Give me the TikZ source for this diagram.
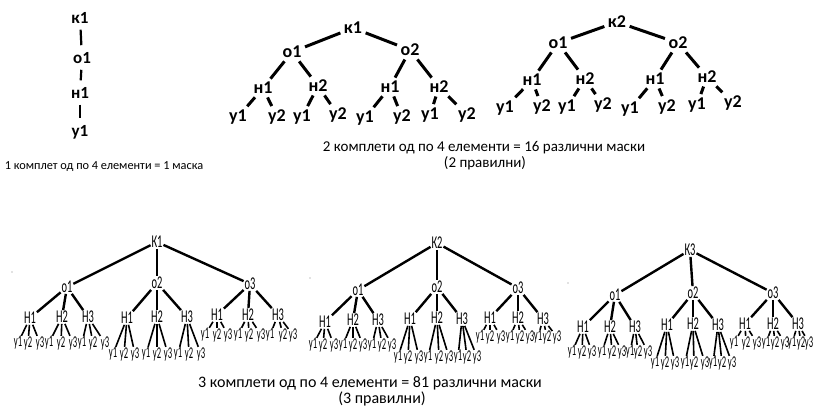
\documentclass[tikz,border=0pt]{standalone}
\usepackage{fontspec}
\setmainfont{Carlito}
\newfontfamily\narrowfont[FakeStretch=0.58]{Carlito}
\newfontfamily\narrowerfont[FakeStretch=0.52]{Carlito}
\newcommand\yrow[4]{%
  \foreach \xx [count=\c from 0] in {#4} {
    \pgfmathtruncatemacro\jj{int(\c/3)+1}
    \pgfmathtruncatemacro\kk{mod(\c,3)+1}
    \node[byl] (#1-o#2-n\jj-y\kk) at (\xx,#3) {у\kk};
    \draw[bye] (#1-o#2-n\jj) -- (#1-o#2-n\jj-y\kk);
  }}
\newcommand\btree[5]{% name, root label, root pos, o-list i/x/y, n-list i/j/x/y
  \node[bl] (#1) at (#3) {#2};
  \foreach \i/\x/\y in {#4} {
    \node[bl] (#1-o\i) at (\x,\y) {о\i};
    \draw[be] (#1) -- (#1-o\i);
  }
  \foreach \i/\j/\x/\y in {#5} {
    \node[bl] (#1-o\i-n\j) at (\x,\y) {Н\j};
    \draw[be] (#1-o\i) -- (#1-o\i-n\j);
  }}
\begin{document}
\begin{tikzpicture}[x=1pt,y=-1pt,
  tl/.style={font=\fontsize{18}{18}\selectfont\bfseries, inner sep=2.5pt},
  te/.style={line width=3pt, shorten <=1pt, shorten >=1pt},
  chain/.style={font=\fontsize{17}{17}\selectfont\bfseries, inner sep=0pt},
  ce/.style={line width=2.2pt, shorten <=6pt, shorten >=7pt},
  bl/.style={font=\narrowfont\fontsize{18}{18}\selectfont, inner sep=0.8pt},
  byl/.style={font=\narrowerfont\fontsize{16.5}{16.5}\selectfont, inner sep=0.3pt},
  be/.style={line width=2.4pt},
  bye/.style={line width=1.6pt},
  captext/.style={inner sep=0pt}]
\useasboundingbox (0,0) rectangle (814,412);

% ---- single chain
\node[chain] (ck) at (80,18) {к1};
\node[chain] (co) at (82,58) {о1};
\node[chain] (cn) at (80,93) {н1};
\node[chain] (cy) at (80,132) {у1};
\draw[ce] (ck) -- (co);
\draw[ce] (co) -- (cn);
\draw[ce] (cn) -- (cy);
\node[captext, font=\fontsize{12.3}{14}\selectfont] (cap1) at (104,167) {1 комплет од по 4 елементи = 1 маска};

% ---- top tree 1
\node[tl] (a) at (353,28) {к1};
\node[tl] (a1) at (292,52) {о1};
\node[tl] (a2) at (410,50) {о2};
\node[tl] (a11) at (263,88) {н1};
\node[tl] (a12) at (318,86) {н2};
\node[tl] (a21) at (390,87) {н1};
\node[tl] (a22) at (439,87) {н2};
\node[tl] (a111) at (238,117) {у1};
\node[tl] (a112) at (277,117) {у2};
\node[tl] (a121) at (302,117) {у1};
\node[tl] (a122) at (338,115) {у2};
\node[tl] (a211) at (365,118) {у1};
\node[tl] (a212) at (402,117) {у2};
\node[tl] (a221) at (430,115) {у1};
\node[tl] (a222) at (467,115) {у2};
\foreach \p/\c in {a/a1,a/a2,a1/a11,a1/a12,a2/a21,a2/a22,a11/a111,a11/a112,a12/a121,a12/a122,a21/a211,a21/a212,a22/a221,a22/a222}
  \draw[te] (\p) -- (\c);

% ---- top tree 2
\node[tl] (b) at (617,22) {к2};
\node[tl] (b1) at (558,43) {о1};
\node[tl] (b2) at (678,43) {о2};
\node[tl] (b11) at (532,80) {н1};
\node[tl] (b12) at (585,79) {н2};
\node[tl] (b21) at (655,79) {н1};
\node[tl] (b22) at (707,77) {н2};
\node[tl] (b111) at (505,108) {у1};
\node[tl] (b112) at (542,107) {у2};
\node[tl] (b121) at (567,107) {у1};
\node[tl] (b122) at (603,105) {у2};
\node[tl] (b211) at (630,109) {у1};
\node[tl] (b212) at (667,107) {у2};
\node[tl] (b221) at (697,105) {у1};
\node[tl] (b222) at (733,103) {у2};
\foreach \p/\c in {b/b1,b/b2,b1/b11,b1/b12,b2/b21,b2/b22,b11/b111,b11/b112,b12/b121,b12/b122,b21/b211,b21/b212,b22/b221,b22/b222}
  \draw[te] (\p) -- (\c);

\node[captext, font=\fontsize{15}{16}\selectfont] (cap2a) at (484,148) {2 комплети од по 4 елементи = 16 различни маски};
\node[captext, font=\fontsize{15}{16}\selectfont] (cap2b) at (485,163) {(2 правилни)};

% ---- bottom tree 1
\btree{t1}{К1}{157,242}{1/67/287,2/157/283,3/250/284}
  {1/1/30/318,1/2/62/317,1/3/88/317,2/1/127/318,2/2/157/317,2/3/187/317,3/1/217/315,3/2/248/315,3/3/278/315}
\yrow{t1}{1}{343}{18,28,40,49,61,73,82,93,105}
\yrow{t1}{2}{354}{113,124,135,146,157,168,178,189,201}
\yrow{t1}{3}{335}{205,217,228,238,249,261,270,283,293}

% ---- bottom tree 2
\btree{t2}{К2}{437,243}{1/358/290,2/437/287,3/518/288}
  {1/1/325/322,1/2/353/320,1/3/378/320,2/1/410/319,2/2/437/318,2/3/462/319,3/1/490/318,3/2/518/318,3/3/543/319}
\yrow{t2}{1}{345}{313,323,334,343,353,363,372,382,392}
\yrow{t2}{2}{357}{398,408,419,428,439,449,458,467,477}
\yrow{t2}{3}{337}{480,490,501,510,520,530,538,547,557}

% ---- bottom tree 3
\btree{t3}{К3}{690,250}{1/615/295,2/693/293,3/773/293}
  {1/1/583/327,1/2/610/327,1/3/635/327,2/1/667/325,2/2/693/324,2/3/718/325,3/1/745/324,3/2/773/324,3/3/798/324}
\yrow{t3}{1}{352}{572,582,592,602,612,622,630,638,648}
\yrow{t3}{2}{363}{655,665,675,685,694,705,713,722,732}
\yrow{t3}{3}{343}{734,746,757,766,775,785,792,801,809}

\node[captext, font=\fontsize{16}{17}\selectfont] (cap3a) at (370,383) {3 комплети од по 4 елементи = 81 различни маски};
\node[captext, font=\fontsize{16}{17}\selectfont] (cap3b) at (382,399) {(3 правилни)};

% stray specks
\fill[gray] (12,272) circle (0.6);
\fill[gray] (310,278) circle (0.6);
\fill[gray] (568,283) circle (0.6);
\end{tikzpicture}
\end{document}
